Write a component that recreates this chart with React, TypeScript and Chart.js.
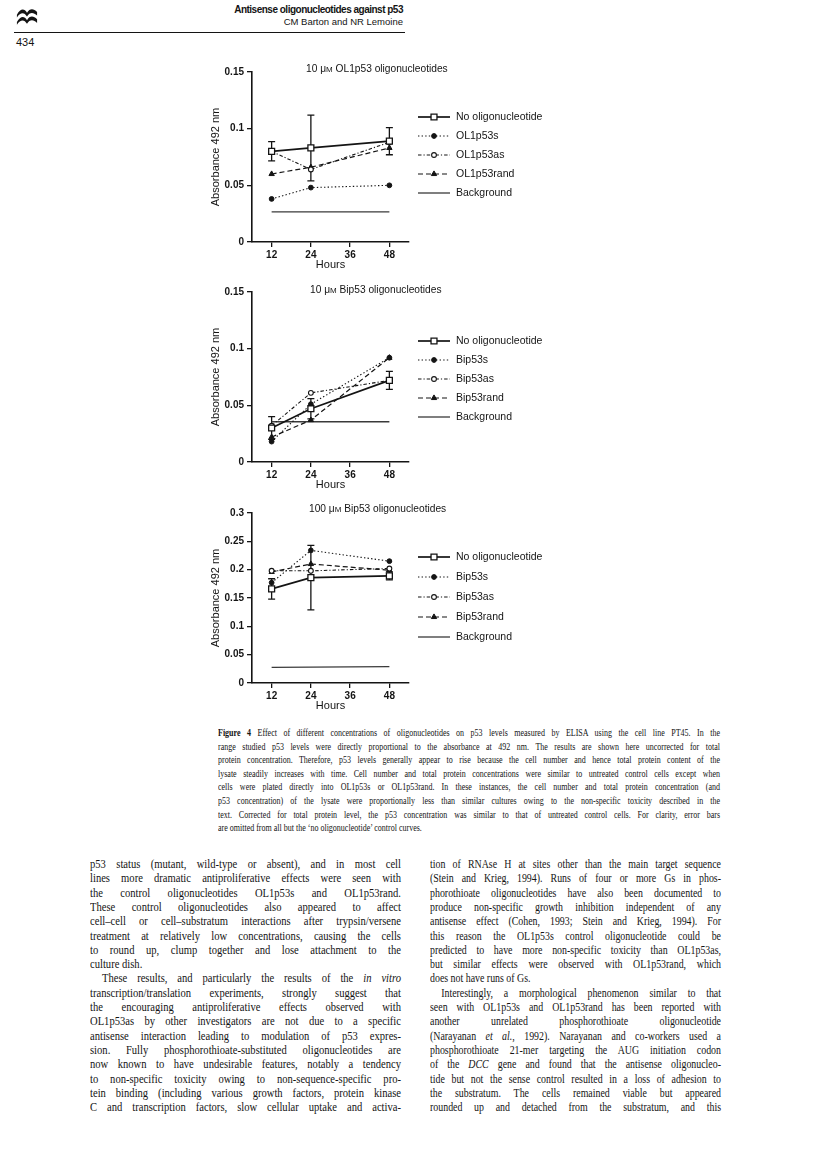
import React, { useEffect, useRef } from "react";
import { Chart, registerables } from "chart.js";

Chart.register(...registerables);

// ---------- DATA ----------
const hours = [12, 24, 48];
const backgroundHours = [12, 48];
const hourTicks = [12, 24, 36, 48];

const labelsOL = ["No oligonucleotide", "OL1p53s", "OL1p53as", "OL1p53rand", "Background"];
const labelsBip = ["No oligonucleotide", "Bip53s", "Bip53as", "Bip53rand", "Background"];

// Chart 1: 10 µM OL1p53 oligonucleotides
const ol10NoOligo = [0.080, 0.083, 0.089];
const ol10NoOligoErr = [0.0085, 0.029, 0.012];
const ol10Sense = [0.038, 0.048, 0.050];
const ol10Antisense = [0.080, 0.064, 0.088];
const ol10Rand = [0.060, 0.066, 0.083];
const ol10Background = [0.0265, 0.0265];
const ticksLow = [0, 0.05, 0.1, 0.15];

// Chart 2: 10 µM Bip53 oligonucleotides
const bip10NoOligo = [0.030, 0.047, 0.072];
const bip10NoOligoErr = [0.010, 0.009, 0.008];
const bip10Sense = [0.018, 0.051, 0.092];
const bip10Antisense = [0.032, 0.061, 0.072];
const bip10Rand = [0.022, 0.037, 0.092];
const bip10Background = [0.0355, 0.0355];

// Chart 3: 100 µM Bip53 oligonucleotides
const bip100NoOligo = [0.166, 0.186, 0.189];
const bip100NoOligoErr = [0.018, 0.057, 0.007];
const bip100Sense = [0.177, 0.234, 0.215];
const bip100Antisense = [0.198, 0.198, 0.202];
const bip100Rand = [0.196, 0.210, 0.199];
const bip100Background = [0.0275, 0.029];
const ticksHigh = [0, 0.05, 0.1, 0.15, 0.2, 0.25, 0.3];

const titles = [
  ["10 μ", "M", " OL1p53 oligonucleotides"],
  ["10 μ", "M", " Bip53 oligonucleotides"],
  ["100 μ", "M", " Bip53 oligonucleotides"],
];

const captionLines = [
  "**Figure 4**  Effect of different concentrations of oligonucleotides on p53 levels measured by ELISA using the cell line PT45. In the",
  "range studied p53 levels were directly proportional to the absorbance at 492 nm. The results are shown here uncorrected for total",
  "protein concentration. Therefore, p53 levels generally appear to rise because the cell number and hence total protein content of the",
  "lysate steadily increases with time. Cell number and total protein concentrations were similar to untreated control cells except when",
  "cells were plated directly into OL1p53s or OL1p53rand. In these instances, the cell number and total protein concentration (and",
  "p53 concentration) of the lysate were proportionally less than similar cultures owing to the non-specific toxicity described in the",
  "text. Corrected for total protein level, the p53 concentration was similar to that of untreated control cells. For clarity, error bars",
  "are omitted from all but the ‘no oligonucleotide’ control curves.",
];

const leftColumn = [
  "p53 status (mutant, wild-type or absent), and in most cell",
  "lines more dramatic antiproliferative effects were seen with",
  "the control oligonucleotides OL1p53s and OL1p53rand.",
  "These control oligonucleotides also appeared to affect",
  "cell–cell or cell–substratum interactions after trypsin/versene",
  "treatment at relatively low concentrations, causing the cells",
  "to round up, clump together and lose attachment to the",
  "culture dish.",
  "These results, and particularly the results of the *in vitro*",
  "transcription/translation experiments, strongly suggest that",
  "the encouraging antiproliferative effects observed with",
  "OL1p53as by other investigators are not due to a specific",
  "antisense interaction leading to modulation of p53 expres-",
  "sion. Fully phosphorothioate-substituted oligonucleotides are",
  "now known to have undesirable features, notably a tendency",
  "to non-specific toxicity owing to non-sequence-specific pro-",
  "tein binding (including various growth factors, protein kinase",
  "C and transcription factors, slow cellular uptake and activa-",
];
const leftShort = [7];
const leftIndent = [8];

const rightColumn = [
  "tion of RNAse H at sites other than the main target sequence",
  "(Stein and Krieg, 1994). Runs of four or more Gs in phos-",
  "phorothioate oligonucleotides have also been documented to",
  "produce non-specific growth inhibition independent of any",
  "antisense effect (Cohen, 1993; Stein and Krieg, 1994). For",
  "this reason the OL1p53s control oligonucleotide could be",
  "predicted to have more non-specific toxicity than OL1p53as,",
  "but similar effects were observed with OL1p53rand, which",
  "does not have runs of Gs.",
  "Interestingly, a morphological phenomenon similar to that",
  "seen with OL1p53s and OL1p53rand has been reported with",
  "another unrelated phosphorothioate oligonucleotide",
  "(Narayanan *et al.*, 1992). Narayanan and co-workers used a",
  "phosphorothioate 21-mer targeting the AUG initiation codon",
  "of the *DCC* gene and found that the antisense oligonucleo-",
  "tide but not the sense control resulted in a loss of adhesion to",
  "the substratum. The cells remained viable but appeared",
  "rounded up and detached from the substratum, and this",
];
const rightShort = [8];
const rightIndent = [9];

// ---------- STYLE ----------
const INK = "#141414";
const SANS = '"Liberation Sans", Arial, sans-serif';
const SERIF = '"Liberation Serif", "Times New Roman", serif';

function pts(xs: number[], ys: number[]) {
  return xs.map((x, i) => ({ x, y: ys[i] }));
}

function buildDatasets(labels: string[], noOligo: number[], err: number[], s: number[], as: number[], rand: number[], bg: number[]) {
  return [
    {
      label: labels[0], data: pts(hours, noOligo), errors: err,
      borderColor: INK, borderWidth: 1.7, borderDash: [],
      pointStyle: "rect", pointRadius: 4.2, pointBackgroundColor: "#fff", pointBorderColor: INK, pointBorderWidth: 1.3,
    },
    {
      label: labels[1], data: pts(hours, s),
      borderColor: INK, borderWidth: 1.1, borderDash: [1.4, 2.2],
      pointStyle: "circle", pointRadius: 2.4, pointBackgroundColor: INK, pointBorderColor: INK, pointBorderWidth: 1,
    },
    {
      label: labels[2], data: pts(hours, as),
      borderColor: INK, borderWidth: 1.1, borderDash: [3.5, 2, 1.2, 2],
      pointStyle: "circle", pointRadius: 2.4, pointBackgroundColor: "#fff", pointBorderColor: INK, pointBorderWidth: 1.1,
    },
    {
      label: labels[3], data: pts(hours, rand),
      borderColor: INK, borderWidth: 1.2, borderDash: [5, 3],
      pointStyle: "triangle", pointRadius: 3.1, pointBackgroundColor: INK, pointBorderColor: INK, pointBorderWidth: 1,
    },
    {
      label: labels[4], data: pts(backgroundHours, bg),
      borderColor: "#3a3a3a", borderWidth: 1.3, borderDash: [],
      pointStyle: "circle", pointRadius: 0,
    },
  ];
}

function drawMarker(ctx: CanvasRenderingContext2D, ds: any, x: number, y: number) {
  const r = ds.pointRadius;
  if (!r) return;
  ctx.save();
  ctx.setLineDash([]);
  ctx.lineWidth = ds.pointBorderWidth || 1;
  ctx.strokeStyle = ds.pointBorderColor || INK;
  ctx.fillStyle = ds.pointBackgroundColor || INK;
  ctx.beginPath();
  if (ds.pointStyle === "rect") {
    const s = Math.SQRT1_2 * r;
    ctx.rect(x - s, y - s, 2 * s, 2 * s);
  } else if (ds.pointStyle === "triangle") {
    let rad = 0;
    ctx.moveTo(x + Math.sin(rad) * r, y - Math.cos(rad) * r);
    rad += (2 * Math.PI) / 3;
    ctx.lineTo(x + Math.sin(rad) * r, y - Math.cos(rad) * r);
    rad += (2 * Math.PI) / 3;
    ctx.lineTo(x + Math.sin(rad) * r, y - Math.cos(rad) * r);
    ctx.closePath();
  } else {
    ctx.arc(x, y, r, 0, Math.PI * 2);
  }
  ctx.fill();
  ctx.stroke();
  ctx.restore();
}

const errorBarPlugin = {
  id: "errorBars",
  beforeDatasetsDraw(chart: any) {
    const { ctx } = chart;
    const xs = chart.scales.x;
    const ys = chart.scales.y;
    chart.data.datasets.forEach((ds: any) => {
      if (!ds.errors) return;
      ctx.save();
      ctx.strokeStyle = INK;
      ctx.lineWidth = 1.3;
      ds.data.forEach((p: any, j: number) => {
        const e = ds.errors[j];
        const x = xs.getPixelForValue(p.x);
        const yt = ys.getPixelForValue(p.y + e);
        const yb = ys.getPixelForValue(p.y - e);
        ctx.beginPath();
        ctx.moveTo(x, yt); ctx.lineTo(x, yb);
        ctx.moveTo(x - 3.5, yt); ctx.lineTo(x + 3.5, yt);
        ctx.moveTo(x - 3.5, yb); ctx.lineTo(x + 3.5, yb);
        ctx.stroke();
      });
      ctx.restore();
    });
  },
};

const sideLegendPlugin = {
  id: "sideLegend",
  afterDraw(chart: any, _args: any, opts: any) {
    const { ctx } = chart;
    chart.data.datasets.forEach((ds: any, i: number) => {
      const y = opts.y + i * opts.gap;
      ctx.save();
      ctx.strokeStyle = ds.borderColor;
      ctx.lineWidth = ds.borderWidth;
      ctx.setLineDash(ds.borderDash || []);
      ctx.beginPath();
      ctx.moveTo(opts.x, y);
      ctx.lineTo(opts.x + opts.len, y);
      ctx.stroke();
      ctx.restore();
      drawMarker(ctx, ds, opts.x + opts.len / 2, y);
      ctx.save();
      ctx.fillStyle = INK;
      ctx.font = `10.5px ${SANS}`;
      ctx.textBaseline = "middle";
      ctx.textAlign = "left";
      ctx.fillText(ds.label, opts.x + opts.len + opts.textGap, y);
      ctx.restore();
    });
  },
};

const CANVAS_LEFT = 203;
const CANVAS_W = 380;
const CANVAS_H = 216;
const AXIS_W = 49;
const PLOT_W = 157;

type Spec = { top: number; yMax: number; yTicks: number[]; datasets: any[]; legendY: number; legendGap: number };

function LineChart({ spec }: { spec: Spec }) {
  const ref = useRef<HTMLCanvasElement | null>(null);
  useEffect(() => {
    if (!ref.current) return;
    const chart = new Chart(ref.current, {
      type: "line",
      data: { datasets: spec.datasets as any },
      options: {
        animation: false,
        responsive: false,
        devicePixelRatio: 1,
        layout: { padding: { top: 10, right: CANVAS_W - AXIS_W - PLOT_W, bottom: 0, left: 0 } },
        elements: { line: { tension: 0 } },
        plugins: {
          legend: { display: false },
          title: { display: false },
          tooltip: { enabled: false },
          sideLegend: { x: AXIS_W + PLOT_W + 9, y: spec.legendY, gap: spec.legendGap, len: 32, textGap: 6 },
        } as any,
        scales: {
          x: {
            type: "linear",
            min: 6,
            max: 54,
            afterBuildTicks: (ax: any) => { ax.ticks = hourTicks.map((v) => ({ value: v })); },
            afterFit: (s: any) => { s.height = 36; },
            grid: { display: true, drawOnChartArea: false, drawTicks: true, tickLength: 5, color: INK, lineWidth: 1.3 },
            border: { display: true, color: INK, width: 1.6 },
            ticks: { color: INK, font: { family: SANS, size: 10, weight: "bold" }, padding: 2, maxRotation: 0, autoSkip: false },
            title: { display: true, text: "Hours", color: INK, font: { family: SANS, size: 11 }, padding: { top: 0, bottom: 6 } },
          },
          y: {
            type: "linear",
            min: 0,
            max: spec.yMax,
            afterBuildTicks: (ax: any) => { ax.ticks = spec.yTicks.map((v) => ({ value: v })); },
            afterFit: (s: any) => { s.width = AXIS_W; },
            grid: { display: true, drawOnChartArea: false, drawTicks: true, tickLength: 5, color: INK, lineWidth: 1.3 },
            border: { display: true, color: INK, width: 1.6 },
            ticks: { color: INK, font: { family: SANS, size: 10, weight: "bold" }, padding: 3, callback: (v: any) => String(v) },
            title: { display: true, text: "Absorbance 492 nm", color: INK, font: { family: SANS, size: 11 }, padding: { top: 6, bottom: 0 } },
          },
        },
      } as any,
      plugins: [errorBarPlugin, sideLegendPlugin],
    });
    return () => chart.destroy();
  }, [spec]);
  return (
    <canvas
      ref={ref}
      width={CANVAS_W}
      height={CANVAS_H}
      style={{ position: "absolute", left: CANVAS_LEFT, top: spec.top, width: CANVAS_W, height: CANVAS_H }}
    />
  );
}

function renderMarkup(text: string) {
  const parts = text.split(/(\*\*[^*]+\*\*|\*[^*]+\*)/);
  return parts.map((p, i) => {
    if (p.startsWith("**")) return <b key={i}>{p.slice(2, -2)}</b>;
    if (p.startsWith("*") && p.length > 1) return <i key={i}>{p.slice(1, -1)}</i>;
    return <React.Fragment key={i}>{p}</React.Fragment>;
  });
}

type BlockProps = { lines: string[]; x: number; y: number; w: number; size: number; lh: number; short: number[]; indent: number[]; sx: number };

function TextBlock({ lines, x, y, w, size, lh, short, indent, sx }: BlockProps) {
  const lw = w / sx;
  return (
    <div style={{ position: "absolute", left: x, top: y, width: lw, height: lines.length * lh, transform: `scaleX(${sx})`, transformOrigin: "0 0" }}>
      {lines.map((t, i) => {
        const ind = indent.includes(i) ? 13 : 0;
        const just = !short.includes(i);
        return (
          <div
            key={i}
            style={{
              position: "absolute",
              left: ind,
              top: i * lh,
              width: lw - ind,
              height: lh,
              lineHeight: `${lh}px`,
              fontFamily: SERIF,
              fontSize: size,
              color: INK,
              textAlign: just ? "justify" : "left",
              textAlignLast: just ? "justify" : "left",
            } as any}
          >
            {renderMarkup(t)}
          </div>
        );
      })}
    </div>
  );
}

function Title({ parts, x, y }: { parts: string[]; x: number; y: number }) {
  return (
    <div style={{ position: "absolute", left: x, top: y, fontFamily: SANS, fontSize: 10.2, color: INK, whiteSpace: "nowrap" }}>
      {parts[0]}
      <span style={{ fontSize: 8 }}>{parts[1]}</span>
      {parts[2]}
    </div>
  );
}

const specs: Spec[] = [
  { top: 62, yMax: 0.15, yTicks: ticksLow, datasets: buildDatasets(labelsOL, ol10NoOligo, ol10NoOligoErr, ol10Sense, ol10Antisense, ol10Rand, ol10Background), legendY: 55, legendGap: 19 },
  { top: 282, yMax: 0.15, yTicks: ticksLow, datasets: buildDatasets(labelsBip, bip10NoOligo, bip10NoOligoErr, bip10Sense, bip10Antisense, bip10Rand, bip10Background), legendY: 59, legendGap: 19 },
  { top: 503, yMax: 0.3, yTicks: ticksHigh, datasets: buildDatasets(labelsBip, bip100NoOligo, bip100NoOligoErr, bip100Sense, bip100Antisense, bip100Rand, bip100Background), legendY: 54, legendGap: 20 },
];

export default function App() {
  return (
    <div style={{ position: "absolute", left: 0, top: 0, width: 816, height: 1169, background: "#fff", overflow: "hidden" }}>
      {/* logo */}
      <svg style={{ position: "absolute", left: 16, top: 7 }} width="22" height="19" viewBox="0 0 24 20">
        <path d="M1 8 C5 1, 9 1, 12 6 C15 1, 19 1, 23 5 L23 9 C19 5, 15 5, 12 10 C9 5, 5 5, 1 11 Z" fill={INK} />
        <path d="M1 16 C5 9, 9 9, 12 14 C15 9, 19 9, 23 13 L23 17 C19 13, 15 13, 12 18 C9 13, 5 13, 1 19 Z" fill={INK} />
      </svg>
      {/* running head */}
      <div style={{ position: "absolute", right: 816 - 403, top: 4, textAlign: "right", fontFamily: SANS, color: INK, lineHeight: "12px" }}>
        <div style={{ fontSize: 10, fontWeight: "bold", letterSpacing: -0.5 }}>Antisense oligonucleotides against p53</div>
        <div style={{ fontSize: 9.5 }}>CM Barton and NR Lemoine</div>
      </div>
      <div style={{ position: "absolute", left: 14, top: 32, width: 391, height: 1.3, background: INK }} />
      <div style={{ position: "absolute", left: 16, top: 36, fontFamily: SANS, fontSize: 11, color: INK }}>434</div>

      {/* charts */}
      {specs.map((s, i) => (
        <LineChart key={i} spec={s} />
      ))}
      <Title parts={titles[0]} x={306} y={63} />
      <Title parts={titles[1]} x={310} y={284} />
      <Title parts={titles[2]} x={309} y={503} />

      {/* caption */}
      <TextBlock lines={captionLines} x={218} y={726} w={502} size={10} lh={13.6} short={[captionLines.length - 1]} indent={[]} sx={0.8} />

      {/* body columns */}
      <TextBlock lines={leftColumn} x={90} y={857} w={311} size={11.5} lh={14.3} short={leftShort} indent={leftIndent} sx={0.92} />
      <TextBlock lines={rightColumn} x={430} y={857} w={291} size={11.5} lh={14.3} short={rightShort} indent={rightIndent} sx={0.86} />
    </div>
  );
}
